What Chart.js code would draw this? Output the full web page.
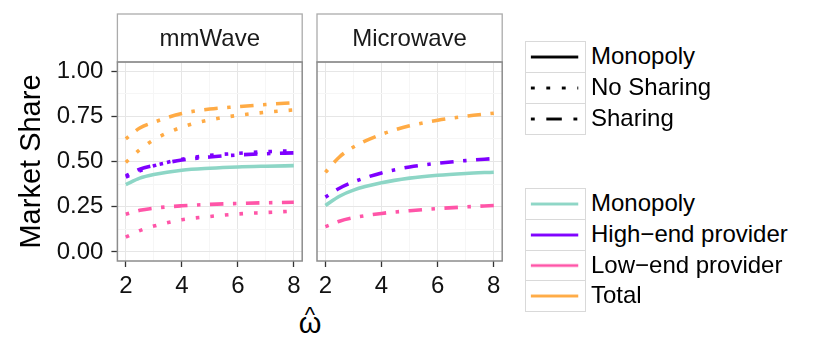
<!DOCTYPE html>
<html>
<head>
<meta charset="utf-8">
<script src="https://cdn.jsdelivr.net/npm/chart.js@4"></script>
<style>
  body { margin: 0; background: #fff; }
  #wrap { position: relative; width: 830px; height: 357px; font-family: "Liberation Sans", Arial, Helvetica, sans-serif; color: #000; }
  .cv { position: absolute; top: 0; }
  .key { position: absolute; left: 525px; width: 61px; box-sizing: border-box; border: 1.5px solid #d9d9d9; background: #fff; }
  .lab { position: absolute; left: 591px; font-size: 24px; white-space: nowrap; }
  .xt { position: absolute; left: 280px; width: 60px; text-align: center; line-height: 1; }
</style>
</head>
<body>
<div id="wrap">
  <canvas id="c1" class="cv" style="left:0" width="310" height="300"></canvas>
  <canvas id="c2" class="cv" style="left:310px" width="200" height="300"></canvas>
  <div class="xt" style="top:304px;font-size:22px">^</div>
  <div class="xt" style="top:309px;font-size:29px">ω</div>
  <div id="leg1"></div>
  <div id="leg2"></div>
</div>
<script>
// ── datos ──
const OMEGA = [2, 2.5, 3, 4, 5, 6, 7, 8];

// mmWave
const MM_MONOPOLY       = [0.372, 0.408, 0.428, 0.452, 0.463, 0.470, 0.474, 0.477];
const MM_HIGH_SHARING   = [0.420, 0.458, 0.478, 0.508, 0.525, 0.536, 0.543, 0.548];
const MM_HIGH_NOSHARING = [0.413, 0.448, 0.476, 0.512, 0.534, 0.545, 0.554, 0.559];
const MM_LOW_SHARING    = [0.208, 0.230, 0.242, 0.255, 0.263, 0.268, 0.272, 0.275];
const MM_LOW_NOSHARING  = [0.082, 0.118, 0.143, 0.178, 0.196, 0.210, 0.218, 0.226];
const MM_TOTAL_SHARING  = [0.625, 0.685, 0.717, 0.765, 0.790, 0.803, 0.815, 0.825];
const MM_TOTAL_NOSHARING= [0.495, 0.565, 0.620, 0.690, 0.730, 0.755, 0.772, 0.785];

// Microwave
const MW_MONOPOLY       = [0.257, 0.308, 0.342, 0.382, 0.408, 0.424, 0.434, 0.441];
const MW_HIGH_SHARING   = [0.303, 0.352, 0.387, 0.437, 0.470, 0.490, 0.505, 0.516];
const MW_LOW_SHARING    = [0.140, 0.170, 0.189, 0.213, 0.228, 0.240, 0.249, 0.257];
const MW_TOTAL_SHARING  = [0.440, 0.525, 0.580, 0.650, 0.697, 0.728, 0.750, 0.767];

const PANELS = ['mmWave', 'Microwave'];
const X_TICK_LABELS = ['2', '4', '6', '8'];
const Y_TICK_LABELS = ['0.00', '0.25', '0.50', '0.75', '1.00'];
const LINETYPES = ['Monopoly', 'No Sharing', 'Sharing'];
const GROUPS = ['Monopoly', 'High\u2212end provider', 'Low\u2212end provider', 'Total'];

// ── estilos ──
const FONT = '"Liberation Sans", Arial, Helvetica, sans-serif';
const COLORS = ['#8dd6c6', '#7f00ff', '#ff55a8', '#ffab45'];
const DASH_PANEL = { solid: [], dotted: [3.6, 11], dotdash: [3.5, 9.5, 13.5, 9.5] };
const DASH_KEY   = { solid: [], dotted: [4, 12], dotdash: [4, 12, 16, 12] };

function withMinors(majors) {
  const out = [];
  majors.forEach((v, i) => {
    out.push(v);
    if (i < majors.length - 1) out.push((v + majors[i + 1]) / 2);
  });
  return out;
}
const X_MAJ = X_TICK_LABELS.map(Number);
const Y_MAJ = Y_TICK_LABELS.map(Number);
const X_ALL = withMinors(X_MAJ);
const Y_ALL = withMinors(Y_MAJ);
const isMaj = (arr, v) => arr.some(m => Math.abs(m - v) < 1e-9);

function lineDs(label, data, color, dash) {
  return {
    label,
    data: OMEGA.map((x, i) => ({ x, y: data[i] })),
    borderColor: color,
    borderWidth: 3.6,
    borderDash: dash,
    borderCapStyle: 'butt',
    pointRadius: 0,
    fill: false,
    cubicInterpolationMode: 'monotone'
  };
}

// franja superior + borde del panel
const stripPlugin = {
  id: 'strip',
  afterDraw(chart, args, opts) {
    const a = chart.chartArea, ctx = chart.ctx;
    ctx.save();
    ctx.fillStyle = '#fff';
    ctx.fillRect(a.left, 14, a.right - a.left, a.top - 14);
    ctx.strokeStyle = '#ababab';
    ctx.lineWidth = 1.3;
    ctx.strokeRect(a.left, 14, a.right - a.left, a.top - 14);
    ctx.fillStyle = '#1a1a1a';
    ctx.font = '24px ' + FONT;
    ctx.textAlign = 'center';
    ctx.textBaseline = 'middle';
    ctx.fillText(opts.text, (a.left + a.right) / 2, (14 + a.top) / 2 + 1);
    ctx.strokeStyle = '#8c8c8c';
    ctx.lineWidth = 1.5;
    ctx.strokeRect(a.left, a.top, a.right - a.left, a.bottom - a.top);
    ctx.restore();
  }
};

function makeScales(first, yWidth) {
  return {
    x: {
      type: 'linear', min: 1.7, max: 8.3,
      afterBuildTicks: s => { s.ticks = X_ALL.map(v => ({ value: v })); },
      afterFit: s => { s.height = 39; },
      border: { display: false },
      grid: {
        color: c => (c.tick && isMaj(X_MAJ, c.tick.value)) ? '#e6e6e6' : '#f6f6f6',
        lineWidth: 1,
        drawTicks: true, tickLength: 6, tickWidth: 1.3,
        tickColor: c => (c.tick && isMaj(X_MAJ, c.tick.value)) ? '#333' : 'rgba(0,0,0,0)'
      },
      ticks: {
        autoSkip: false, maxRotation: 0, padding: 5,
        color: '#111', font: { size: 24, family: FONT },
        callback: v => isMaj(X_MAJ, v) ? X_TICK_LABELS[X_MAJ.findIndex(m => Math.abs(m - v) < 1e-9)] : ''
      }
    },
    y: {
      type: 'linear', min: -0.05, max: 1.05,
      afterBuildTicks: s => { s.ticks = Y_ALL.map(v => ({ value: v })); },
      afterFit: s => { s.width = yWidth; },
      border: { display: false },
      title: first ? {
        display: true, text: 'Market Share', color: '#000',
        font: { size: 29, family: FONT }, padding: { top: 15, bottom: 0 }
      } : { display: false },
      grid: {
        color: c => (c.tick && isMaj(Y_MAJ, c.tick.value)) ? '#e6e6e6' : '#f6f6f6',
        lineWidth: 1,
        drawTicks: first, tickLength: 6, tickWidth: 1.3,
        tickColor: c => (c.tick && isMaj(Y_MAJ, c.tick.value)) ? '#333' : 'rgba(0,0,0,0)'
      },
      ticks: {
        display: first, autoSkip: false, padding: 8,
        color: '#111', font: { size: 24, family: FONT },
        callback: v => isMaj(Y_MAJ, v) ? Y_TICK_LABELS[Y_MAJ.findIndex(m => Math.abs(m - v) < 1e-9)] : ''
      }
    }
  };
}

function makePanel(id, title, datasets, first) {
  return new Chart(document.getElementById(id), {
    type: 'line',
    data: { datasets },
    plugins: [stripPlugin],
    options: {
      responsive: false,
      animation: false,
      layout: { padding: { left: 0, top: 62, right: 7.8, bottom: 0 } },
      plugins: { legend: { display: false }, tooltip: { enabled: false }, strip: { text: title } },
      scales: makeScales(first, first ? 117.4 : 7)
    }
  });
}

makePanel('c1', PANELS[0], [
  lineDs('Monopoly', MM_MONOPOLY, COLORS[0], DASH_PANEL.solid),
  lineDs('High No Sharing', MM_HIGH_NOSHARING, COLORS[1], DASH_PANEL.dotted),
  lineDs('High Sharing', MM_HIGH_SHARING, COLORS[1], DASH_PANEL.dotdash),
  lineDs('Low No Sharing', MM_LOW_NOSHARING, COLORS[2], DASH_PANEL.dotted),
  lineDs('Low Sharing', MM_LOW_SHARING, COLORS[2], DASH_PANEL.dotdash),
  lineDs('Total No Sharing', MM_TOTAL_NOSHARING, COLORS[3], DASH_PANEL.dotted),
  lineDs('Total Sharing', MM_TOTAL_SHARING, COLORS[3], DASH_PANEL.dotdash)
], true);

makePanel('c2', PANELS[1], [
  lineDs('Monopoly', MW_MONOPOLY, COLORS[0], DASH_PANEL.solid),
  lineDs('High Sharing', MW_HIGH_SHARING, COLORS[1], DASH_PANEL.dotdash),
  lineDs('Low Sharing', MW_LOW_SHARING, COLORS[2], DASH_PANEL.dotdash),
  lineDs('Total Sharing', MW_TOTAL_SHARING, COLORS[3], DASH_PANEL.dotdash)
], false);

// ── leyendas ──
function legend(holderId, labels, top, rowH, styleOf) {
  const holder = document.getElementById(holderId);
  labels.forEach((txt, i) => {
    const y = top + i * rowH;
    const key = document.createElement('canvas');
    key.className = 'key';
    key.width = 61; key.height = Math.round(rowH + 1);
    key.style.top = y + 'px';
    key.style.height = (rowH + 1) + 'px';
    holder.appendChild(key);
    const ctx = key.getContext('2d');
    const st = styleOf(i);
    ctx.strokeStyle = st.color;
    ctx.lineWidth = 2.8;
    ctx.lineCap = 'butt';
    ctx.setLineDash(st.dash);
    ctx.beginPath();
    ctx.moveTo(5, key.height / 2);
    ctx.lineTo(54, key.height / 2);
    ctx.stroke();
    const lab = document.createElement('div');
    lab.className = 'lab';
    lab.textContent = txt;
    lab.style.top = y + 'px';
    lab.style.lineHeight = rowH + 'px';
    holder.appendChild(lab);
  });
}
const KEY_DASHES = [DASH_KEY.solid, DASH_KEY.dotted, DASH_KEY.dotdash];
legend('leg1', LINETYPES, 41, 30.9, i => ({ color: '#000', dash: KEY_DASHES[i] }));
legend('leg2', GROUPS, 188.3, 30.7, i => ({ color: COLORS[i], dash: [] }));
</script>
</body>
</html>
